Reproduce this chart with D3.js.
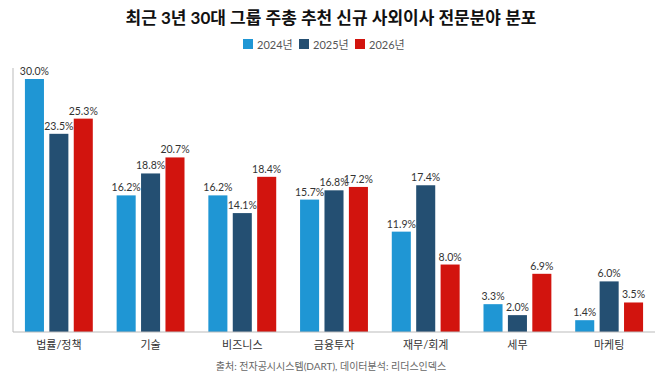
<!DOCTYPE html>
<html>
<head>
<meta charset="utf-8">
<script src="https://cdn.jsdelivr.net/npm/d3@7"></script>
<style>
  body { margin: 0; background: #fff; }
  svg { font-family: Lato, "Noto Sans CJK KR", sans-serif; }
</style>
</head>
<body>
<svg width="662" height="382"></svg>
<script>
var categories = ["법률/정책", "기술", "비즈니스", "금융투자", "재무/회계", "세무", "마케팅"];
var years = ["2024년", "2025년", "2026년"];
var v2024 = [30.0, 16.2, 16.2, 15.7, 11.9, 3.3, 1.4];
var v2025 = [23.5, 18.8, 14.1, 16.8, 17.4, 2.0, 6.0];
var v2026 = [25.3, 20.7, 18.4, 17.2, 8.0, 6.9, 3.5];
var colors = ["#1f96d4", "#244f72", "#d2140e"];

var series = [v2024, v2025, v2026];
var svg = d3.select("svg");

var margin = {top: 68, right: 7, bottom: 50, left: 13},
    width = 662 - margin.left - margin.right,
    height = 382 - margin.top - margin.bottom;

var x0 = d3.scaleBand().domain(categories).range([0, width]).paddingInner(0.26).paddingOuter(0.13);
var x1 = d3.scaleBand().domain(years).range([0, x0.bandwidth()]).paddingInner(0.22);
var y = d3.scaleLinear().domain([0, 30]).range([height, 11]);

// title
svg.append("text")
    .attr("x", 331).attr("y", 24)
    .attr("text-anchor", "middle")
    .attr("font-size", 17).attr("font-weight", "bold")
    .attr("fill", "#111")
    .text("최근 3년 30대 그룹 주총 추천 신규 사외이사 전문분야 분포");

// legend
var legend = svg.append("g").attr("transform", "translate(243,39)");
years.forEach(function(yr, i) {
  var g = legend.append("g").attr("transform", "translate(" + (i * 56) + ",0)");
  g.append("rect").attr("width", 10).attr("height", 10).attr("fill", colors[i]);
  g.append("text").attr("x", 14).attr("y", 9.5)
    .attr("font-size", 11).attr("fill", "#555").text(yr);
});

var g = svg.append("g").attr("transform", "translate(" + margin.left + "," + margin.top + ")");

var groups = g.selectAll(".grp")
  .data(categories)
  .enter().append("g")
    .attr("class", "grp")
    .attr("transform", function(d) { return "translate(" + x0(d) + ",0)"; });

years.forEach(function(yr, si) {
  groups.append("rect")
    .attr("x", x1(yr))
    .attr("width", x1.bandwidth())
    .attr("y", function(d, i) { return y(series[si][i]); })
    .attr("height", function(d, i) { return height - y(series[si][i]); })
    .attr("fill", colors[si]);
  groups.append("text")
    .attr("x", x1(yr) + x1.bandwidth() / 2)
    .attr("y", function(d, i) { return y(series[si][i]) - 4; })
    .attr("text-anchor", "middle")
    .attr("font-size", 10.5).attr("fill", "#333")
    .text(function(d, i) { return series[si][i].toFixed(1) + "%"; });
});

// axes
g.append("line").attr("x1", 0).attr("x2", 0).attr("y1", 0).attr("y2", height)
  .attr("stroke", "#bbb");
g.append("line").attr("x1", 0).attr("x2", width).attr("y1", height).attr("y2", height)
  .attr("stroke", "#bbb");

var xAxis = g.append("g")
    .attr("transform", "translate(0," + height + ")")
    .call(d3.axisBottom(x0).tickSize(0).tickPadding(9));
xAxis.select(".domain").remove();
xAxis.selectAll("text").attr("font-size", 11).attr("fill", "#333")
  .attr("font-family", "Lato, 'Noto Sans CJK KR', sans-serif");

// source
svg.append("text")
    .attr("x", 331).attr("y", 370)
    .attr("text-anchor", "middle")
    .attr("font-size", 10).attr("fill", "#666")
    .text("출처: 전자공시시스템(DART), 데이터분석: 리더스인덱스");
</script>
</body>
</html>
